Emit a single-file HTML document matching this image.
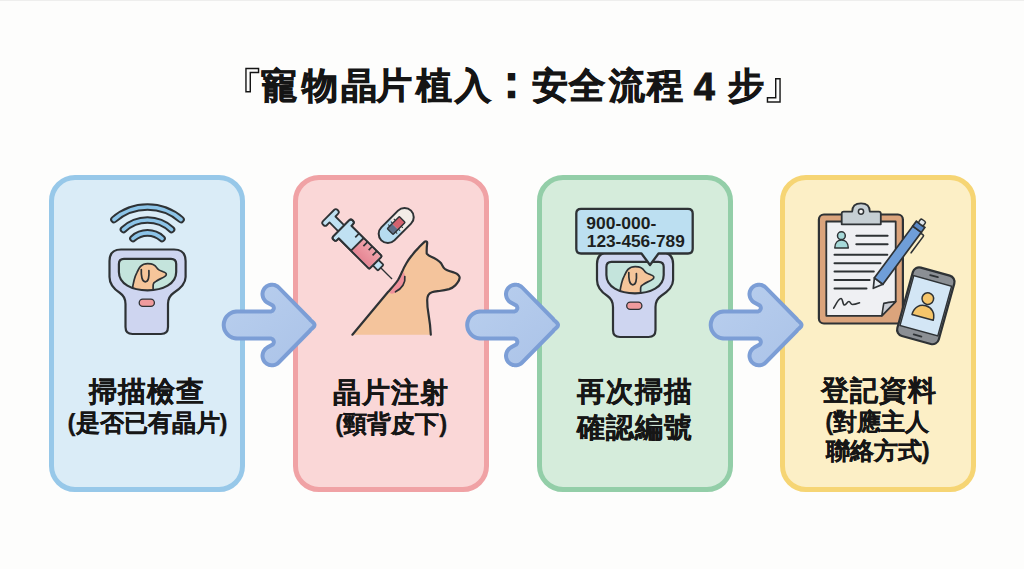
<!DOCTYPE html>
<html lang="zh-Hant-TW">
<head>
<meta charset="utf-8">
<style>
*{margin:0;padding:0;box-sizing:border-box}
html,body{width:1024px;height:569px;overflow:hidden;background:#fdfdfc}
body{position:relative;font-family:"Liberation Sans",sans-serif;color:#1a1a1a}
.topline{position:absolute;left:0;top:0;width:1024px;height:1px;background:#eeeeed}
.title{position:absolute;left:0;top:68px;width:1024px;height:40px}
.tc{position:absolute;top:0;font-size:36px;font-weight:bold;line-height:1;white-space:nowrap;color:#151515;-webkit-text-stroke:0.85px #151515}
.card{position:absolute;top:175px;width:196px;height:317px;border:5px solid;border-radius:26px}
.c1{left:49.2px;border-color:#97c8e9;background:#daecf7}
.c2{left:293px;border-color:#f0a2a5;background:#fad7d7}
.c3{left:536.5px;border-color:#93cea8;background:#d5ecdb}
.c4{left:780px;border-color:#f6d574;background:#fcefc6}
.t{position:absolute;width:200px;text-align:center;font-weight:bold;white-space:nowrap;color:#161616;line-height:1;-webkit-text-stroke:0.25px #161616}
.t1{font-size:28px;letter-spacing:1px;padding-left:1px}
.t2{font-size:24px}
svg.full{position:absolute;left:0;top:0}
.tp{position:absolute;font-weight:normal;line-height:1;white-space:nowrap;color:#151515}
</style>
</head>
<body>
<div class="topline"></div>
<div class="title"><span class="tp" style="left:214.2px;top:-1.9px;font-size:51px">『</span><span class="tc" style="left:261.4px">寵</span><span class="tc" style="left:301.7px">物</span><span class="tc" style="left:340.8px">晶</span><span class="tc" style="left:375.8px">片</span><span class="tc" style="left:415.6px">植</span><span class="tc" style="left:454.8px">入</span><span class="tc" style="left:489.3px;top:-9.5px;font-size:45px">：</span><span class="tc" style="left:531.9px">安</span><span class="tc" style="left:569.4px">全</span><span class="tc" style="left:609.2px">流</span><span class="tc" style="left:646.5px">程</span><span class="tc" style="left:693.7px;font-size:38px">4</span><span class="tc" style="left:727.5px">步</span><span class="tp" style="left:761.2px;top:-13.1px;font-size:51px">』</span></div>

<div class="card c1"></div>
<div class="card c2"></div>
<div class="card c3"></div>
<div class="card c4"></div>

<div class="t t1" style="left:46.95px;top:378px">掃描檢查</div>
<div class="t t2" style="left:47.55px;top:411.3px">(是否已有晶片)</div>
<div class="t t1" style="left:290.60px;top:378.5px">晶片注射</div>
<div class="t t2" style="left:291.25px;top:412px">(頸背皮下)</div>
<div class="t t1" style="left:534.60px;top:378.3px">再次掃描</div>
<div class="t t1" style="left:534.95px;top:414px">確認編號</div>
<div class="t t1" style="left:778.50px;top:377.3px">登記資料</div>
<div class="t t2" style="left:777.20px;top:409.8px">(對應主人</div>
<div class="t t2" style="left:777.65px;top:439.2px">聯絡方式)</div>

<svg class="full" width="1024" height="569" viewBox="0 0 1024 569">
  <defs>
    <g id="arrow">
      <path d="M265.8 303.9 L271.3 306.9 L271.6 307.2 L271.8 307.6 L271.8 308.0 L271.8 308.4 L271.6 308.7 L271.4 309.0 L271.1 309.3 L270.7 309.4 L270.3 309.5 L237.1 309.5 L235.9 309.6 L234.4 309.8 L232.9 310.1 L231.5 310.6 L229.7 311.5 L228.4 312.2 L227.5 312.9 L226.1 314.2 L225.1 315.3 L224.4 316.2 L223.6 317.5 L223.0 318.9 L222.3 320.7 L222.0 321.8 L221.8 323.2 L221.7 325.2 L221.8 326.3 L222.0 327.8 L222.4 329.7 L222.8 330.7 L223.4 332.1 L224.5 333.8 L225.4 335.0 L226.1 335.8 L227.2 336.8 L228.4 337.7 L230.1 338.8 L231.5 339.4 L232.5 339.8 L234.4 340.2 L235.9 340.4 L237.1 340.5 L270.3 340.5 L270.7 340.6 L271.1 340.7 L271.4 341.0 L271.6 341.3 L271.8 341.6 L271.8 342.0 L271.8 342.4 L271.6 342.8 L271.3 343.1 L266.7 345.6 L265.4 346.4 L264.0 347.5 L263.2 348.4 L262.6 349.2 L261.8 350.6 L261.1 352.3 L260.8 353.4 L260.6 354.4 L260.5 356.0 L260.6 357.1 L260.8 358.2 L261.1 359.3 L261.5 360.4 L262.0 361.4 L262.6 362.4 L263.2 363.2 L264.0 364.1 L264.9 364.8 L265.8 365.5 L266.8 366.0 L267.8 366.5 L268.9 366.9 L270.0 367.1 L271.1 367.3 L272.2 367.3 L273.3 367.2 L274.4 367.0 L275.5 366.7 L276.6 366.3 L277.6 365.8 L278.6 365.2 L280.0 364.0 L311.3 332.2 L312.1 331.0 L313.2 330.2 L315.2 328.2 L315.8 327.4 L316.2 326.6 L316.4 325.8 L316.5 324.9 L316.4 324.1 L316.1 323.2 L315.7 322.5 L315.2 321.8 L313.2 319.8 L312.1 319.0 L311.3 317.8 L280.2 286.2 L278.6 284.8 L277.6 284.2 L276.6 283.7 L275.1 283.1 L274.0 282.9 L272.9 282.7 L271.8 282.7 L270.7 282.8 L269.6 283.0 L268.5 283.3 L267.4 283.7 L266.4 284.2 L265.4 284.8 L264.6 285.4 L263.7 286.2 L263.0 287.1 L262.3 288.0 L261.8 289.0 L261.3 290.0 L260.9 291.1 L260.7 292.2 L260.5 293.3 L260.5 294.4 L260.6 295.5 L260.8 296.6 L261.1 297.7 L261.5 298.8 L262.0 299.8 L263.0 301.3 L263.7 302.2 L264.5 302.9Z" fill="#7c9ed6"/>
      <path d="M267.9 300.5 L273.3 303.4 L273.9 303.8 L274.7 304.7 L275.2 305.6 L275.7 306.9 L275.8 307.3 L275.8 308.8 L275.5 309.8 L274.8 311.1 L273.9 312.2 L273.6 312.4 L272.3 313.1 L271.3 313.4 L270.3 313.5 L237.2 313.5 L235.1 313.7 L234.0 314.0 L233.0 314.3 L231.6 315.0 L230.7 315.5 L230.1 316.0 L228.9 317.0 L227.7 318.5 L227.1 319.5 L226.7 320.4 L226.2 321.9 L225.8 323.7 L225.7 325.2 L225.8 326.0 L225.9 327.0 L226.3 328.5 L226.5 329.2 L227.0 330.2 L227.8 331.6 L229.0 333.0 L229.8 333.8 L230.6 334.4 L232.0 335.2 L233.7 335.9 L235.2 336.3 L237.2 336.5 L270.3 336.5 L271.3 336.6 L272.3 336.9 L273.6 337.6 L273.9 337.8 L274.6 338.6 L275.4 339.8 L275.8 341.2 L275.8 342.7 L275.7 343.1 L275.2 344.4 L274.7 345.3 L273.9 346.2 L273.2 346.6 L267.8 349.6 L266.8 350.5 L266.3 351.0 L265.3 352.4 L264.9 353.6 L264.6 354.9 L264.5 356.0 L264.7 357.4 L264.9 358.1 L265.5 359.4 L266.3 360.7 L267.4 361.7 L268.6 362.5 L270.0 363.0 L271.4 363.3 L272.9 363.2 L274.3 362.9 L275.0 362.7 L276.2 362.0 L277.3 361.1 L308.3 329.5 L309.0 328.6 L309.6 327.9 L310.5 327.2 L312.2 325.5 L312.4 325.2 L312.5 325.0 L312.4 324.8 L312.2 324.5 L310.6 322.8 L309.6 322.1 L309.0 321.4 L308.3 320.5 L277.5 289.1 L276.2 288.0 L275.6 287.7 L274.0 287.0 L273.3 286.8 L271.9 286.7 L270.4 286.9 L269.0 287.3 L267.7 288.0 L266.6 289.0 L265.7 290.2 L265.0 291.5 L264.6 292.9 L264.5 294.3 L264.7 295.8 L265.1 297.2 L265.4 297.8 L266.2 298.9 L267.1 299.9Z" fill="url(#ag)"/>
    </g>
    <linearGradient id="ag" x1="0" y1="0" x2="1" y2="1">
      <stop offset="0" stop-color="#b9cfee"/>
      <stop offset="1" stop-color="#abc3e8"/>
    </linearGradient>
    <linearGradient id="liq" x1="0" y1="0" x2="0" y2="1"><stop offset="0" stop-color="#f0a3ab"/><stop offset="1" stop-color="#e58593"/></linearGradient>
    <clipPath id="scr1"><path d="M124 258.9 H171 Q176.2 258.9 176.2 264 V272 C176.2 284 163 290.3 147.5 290.3 C132 290.3 118.9 284 118.9 272 V264 Q118.9 258.9 124 258.9 Z"/></clipPath>
    <g id="scanner">
      <path d="M121 249.5 H174 Q185.6 249.5 185.6 261 V277 C185.6 284.5 179 289.5 173.5 293 C169 296 168 299 168 304 V327 Q168 334 161 334 H132.5 Q125.5 334 125.5 327 V304 C125.5 299 124.5 296 120 293 C114.5 289.5 109.5 284.5 109.5 277 V261 Q109.5 249.5 121 249.5 Z" fill="#ced5f0" stroke="#2e3235" stroke-width="2.2" stroke-linejoin="round"/>
      <path d="M124 258.9 H171 Q176.2 258.9 176.2 264 V272 C176.2 284 163 290.3 147.5 290.3 C132 290.3 118.9 284 118.9 272 V264 Q118.9 258.9 124 258.9 Z" fill="#c4e4dc"/>
      <g clip-path="url(#scr1)">
        <path d="M132 292 C133 283 135 276 137 272.3 C138.5 269 139.5 267.5 140.5 266.4 C142.5 264.5 145 263.7 147.7 263.7 C150 263.7 152 264 153.1 264.6 C155 265.5 156 266.5 156.7 267.6 C157.3 268.5 157.8 269.2 158.5 269.6 C160 270.6 161.8 271.1 163.2 271.7 C165 272.3 166.3 273 166.3 274 C166.3 275 166 275.6 165.6 275.9 C164 277.3 162.5 278 160.8 278.6 C159 279.4 157.5 280.3 156.1 281.3 C155 282 154.2 282.5 153.7 283.1 C153.1 284 153.1 285 153.1 286.1 L153.1 292 Z" fill="#f5c59a" stroke="#2e3235" stroke-width="1.7" stroke-linejoin="round"/>
        <path d="M141.3 269.5 C141 276 142 281.8 145.3 281.8 C148.5 281.8 149.3 277 148.9 270.5" fill="none" stroke="#2e3235" stroke-width="1.7" stroke-linecap="round"/>
      </g>
      <path d="M124 258.9 H171 Q176.2 258.9 176.2 264 V272 C176.2 284 163 290.3 147.5 290.3 C132 290.3 118.9 284 118.9 272 V264 Q118.9 258.9 124 258.9 Z" fill="none" stroke="#2e3235" stroke-width="2.2"/>
      <rect x="139.2" y="299.1" width="15.2" height="7.2" rx="3.6" fill="#ef9b9d" stroke="#2e3235" stroke-width="1.3"/>
    </g>
  </defs>

  <!-- card1 icon -->
  <g fill="none" stroke-linecap="round">
    <path d="M114.0 219.5 A51.1 51.1 0 0 1 181.0 219.5" stroke="#2e3235" stroke-width="7.6"/>
    <path d="M114.0 219.5 A51.1 51.1 0 0 1 181.0 219.5" stroke="#8cc4e8" stroke-width="3.7"/>
    <path d="M123.5 229.5 A35 35 0 0 1 171.5 229.5" stroke="#2e3235" stroke-width="7.6"/>
    <path d="M123.5 229.5 A35 35 0 0 1 171.5 229.5" stroke="#8cc4e8" stroke-width="3.7"/>
    <path d="M133.0 238.5 A21.5 21.5 0 0 1 162.0 238.5" stroke="#2e3235" stroke-width="7.6"/>
    <path d="M133.0 238.5 A21.5 21.5 0 0 1 162.0 238.5" stroke="#8cc4e8" stroke-width="3.7"/>
  </g>
  <use href="#scanner"/>

  <!-- card3 icon -->
  <use href="#scanner" x="487.5" y="3"/>
  <path d="M581 208.8 H688 Q692.7 208.8 692.7 213.5 V248.8 Q692.7 253.5 688 253.5 H658.5 L650 265 L641.5 253.5 H581 Q576.3 253.5 576.3 248.8 V213.5 Q576.3 208.8 581 208.8 Z" fill="#bcdff1" stroke="#2e3235" stroke-width="2.3" stroke-linejoin="round"/>
  <g font-family="Liberation Sans" font-weight="bold" font-size="17" fill="#1d1f21">
  <text x="586.3" y="228.5" textLength="70" lengthAdjust="spacingAndGlyphs">900-000-</text>
  <text x="586.8" y="246.6" textLength="98" lengthAdjust="spacingAndGlyphs">123-456-789</text>
  </g>

  <!-- card2 icon: dog -->
  <path d="M352.4 334.7 L388 292 C392 287.5 395.5 284 398 280 C400 276.5 401 274 402.2 271.6 C403.5 268.5 405 265.5 406.4 263.2 C408 260.5 409.8 258 411.6 255.8 C413.5 253.3 415.5 250.8 418 248.4 C420 246.3 422 244 424.5 241.8 C426 241 427.3 241.6 427.2 243 C426.8 246 426.6 250 426.7 253.5 C428 255 429 255.8 430.7 256.5 C433 257.5 435 258.5 436.8 259.6 C438.8 261 440 262 441.1 263.3 C442 265 442.8 266.5 443.6 267.6 C444.5 268.8 445.5 269.5 446.7 270.1 C449 271.2 451.5 271.8 454 272.5 C456 273.2 457.5 274 458.3 275 C459.3 276 459.8 277 459.6 278 C459.4 279.6 458.8 281 457.7 282.4 C457 283.5 456.3 284.5 455.3 285.4 C453.5 287.2 451.5 288.3 449.1 289.1 C446 290 442.5 290.6 439.3 291 C436.5 291.4 434 291.7 431.9 292.2 C430 292.8 429 293.8 428.2 295.3 C427.4 297 427.2 298.5 427.2 300.2 C427.2 304 427.5 309 428.5 314 C429.5 320 430.5 327 430.8 334.7 Z" fill="#f4c49c"/>
  <path d="M403.8 271.5 C401.5 276.5 398.5 281 395.5 284.8 C393.5 287.5 391.5 290.5 389.5 293 L392 293.8 C397 292.5 401.5 289 404 284 C405.5 281 405.5 278 404.8 275.5 Z" fill="#ef909b"/>
  <path d="M404.8 276.5 C405.8 282.5 402 288.6 395.5 291.8" fill="none" stroke="#2e3235" stroke-width="1.7" stroke-linecap="round"/>
  <path d="M352.4 334.7 L388 292 C392 287.5 395.5 284 398 280 C400 276.5 401 274 402.2 271.6 C403.5 268.5 405 265.5 406.4 263.2 C408 260.5 409.8 258 411.6 255.8 C413.5 253.3 415.5 250.8 418 248.4 C420 246.3 422 244 424.5 241.8 C426 241 427.3 241.6 427.2 243 C426.8 246 426.6 250 426.7 253.5 C428 255 429 255.8 430.7 256.5 C433 257.5 435 258.5 436.8 259.6 C438.8 261 440 262 441.1 263.3 C442 265 442.8 266.5 443.6 267.6 C444.5 268.8 445.5 269.5 446.7 270.1 C449 271.2 451.5 271.8 454 272.5 C456 273.2 457.5 274 458.3 275 C459.3 276 459.8 277 459.6 278 C459.4 279.6 458.8 281 457.7 282.4 C457 283.5 456.3 284.5 455.3 285.4 C453.5 287.2 451.5 288.3 449.1 289.1 C446 290 442.5 290.6 439.3 291 C436.5 291.4 434 291.7 431.9 292.2 C430 292.8 429 293.8 428.2 295.3 C427.4 297 427.2 298.5 427.2 300.2 C427.2 304 427.5 309 428.5 314 C429.5 320 430.5 327 430.8 334.7" fill="none" stroke="#2e3235" stroke-width="2.2" stroke-linecap="round" stroke-linejoin="round"/>

  <!-- syringe -->
  <g transform="translate(330.5 217.5) rotate(45)" stroke="#2e3235" stroke-width="1.8" stroke-linejoin="round">
    <path d="M-2.8 -7.8 Q-2.8 -10.3 -0.3 -10.3 H0.3 Q2.8 -10.3 2.8 -7.8 V-4.2 H16 V4.2 H2.8 V7.8 Q2.8 10.3 0.3 10.3 H-0.3 Q-2.8 10.3 -2.8 7.8 Z" fill="#c0e1f2"/>
    <rect x="63.5" y="-4" width="7.5" height="8" rx="1" fill="#c0e1f2"/>
    <line x1="71" y1="0" x2="87" y2="0" stroke-width="1.3"/>
    <path d="M15.2 -11 Q15.2 -13.6 17.7 -13.6 H18.2 Q20.7 -13.6 20.7 -11 V-9 H62.3 Q63.8 -9 63.8 -7.5 V7.5 Q63.8 9 62.3 9 H20.7 V11 Q20.7 13.6 18.2 13.6 H17.7 Q15.2 13.6 15.2 11 Z" fill="#c0e1f2"/>
    <path d="M38 -8.1 H62.9 V8.1 H38 Z" fill="url(#liq)" stroke="none"/>
    <line x1="38" y1="-9" x2="38" y2="9"/>
    <path d="M15.2 -11 Q15.2 -13.6 17.7 -13.6 H18.2 Q20.7 -13.6 20.7 -11 V-9 H62.3 Q63.8 -9 63.8 -7.5 V7.5 Q63.8 9 62.3 9 H20.7 V11 Q20.7 13.6 18.2 13.6 H17.7 Q15.2 13.6 15.2 11 Z" fill="none"/>
    <path d="M31.5 -9 V-3.5 M43.5 -9 V-3 M50 -9 V-4 M56.5 -9 V-3" fill="none" stroke-width="1.7"/>
  </g>
  <!-- capsule -->
  <g transform="translate(396.2 225.5) rotate(-45)">
    <path d="M0 -9.2 H-11.8 A9.2 9.2 0 0 0 -11.8 9.2 H0 Z" fill="#b6dcf0"/>
    <path d="M0 -9.2 H11.8 A9.2 9.2 0 0 1 11.8 9.2 H0 Z" fill="#f2ede7"/>
    <rect x="-21" y="-9.2" width="42" height="18.4" rx="9.2" fill="none" stroke="#2e3235" stroke-width="2"/>
    <rect x="-8.6" y="-4.2" width="7" height="8.4" fill="#5f6f88"/>
    <rect x="-1.6" y="-4.2" width="10.2" height="8.4" fill="#d4636f"/>
    <rect x="-8.6" y="-4.2" width="17.2" height="8.4" rx="1" fill="none" stroke="#2e3235" stroke-width="1.4"/>
    <path d="M-5 -4.2 V-6.4 M-1 -4.2 V-6.4 M3 -4.2 V-6.4 M-5 4.2 V6.4 M-1 4.2 V6.4 M3 4.2 V6.4" stroke="#2e3235" stroke-width="1"/>
  </g>

  <!-- card4 icon: clipboard -->
  <rect x="818.9" y="214.5" width="84" height="109" rx="5" fill="#dba47c" stroke="#2e3235" stroke-width="2.2"/>
  <path d="M826.3 221.5 H895.7 V301.5 L881.8 315.8 H826.3 Z" fill="#eff0f3" stroke="#2e3235" stroke-width="1.8" stroke-linejoin="round"/>
  <path d="M895.7 301.5 C891 302.2 886.5 302.6 883.8 303.3 C883.1 307 882.5 311 881.8 315.8 Z" fill="#c9ccd3" stroke="#2e3235" stroke-width="1.6" stroke-linejoin="round"/>
  <path d="M841.7 224.3 V213.6 Q841.7 211.6 843.7 211.6 H852.2 C852.2 206 855.8 203.3 861 203.3 C866.2 203.3 869.8 206 869.8 211.6 H878.8 Q880.8 211.6 880.8 213.6 V224.3 Z" fill="#c6cfd4" stroke="#2e3235" stroke-width="1.8" stroke-linejoin="round"/>
  <circle cx="861" cy="211.6" r="2.6" fill="#f4f4f4" stroke="#2e3235" stroke-width="1.5"/>
  <circle cx="841.4" cy="235.7" r="3.9" fill="#a6d9d9" stroke="#2e3235" stroke-width="1.5"/>
  <path d="M834.8 248 C834.8 242.6 838 240 841.5 240 C845 240 848.3 242.6 848.3 248 Z" fill="#a6d9d9" stroke="#2e3235" stroke-width="1.5" stroke-linejoin="round"/>
  <g stroke="#2e3235" stroke-width="2" stroke-linecap="round">
    <line x1="856.3" y1="235.7" x2="887.6" y2="235.7"/>
    <line x1="856.3" y1="244.2" x2="887.6" y2="244.2"/>
    <line x1="834.5" y1="254.7" x2="887.3" y2="254.7"/>
    <line x1="834.5" y1="263.2" x2="880.5" y2="263.2"/>
    <line x1="834.5" y1="271.6" x2="873.8" y2="271.6"/>
    <line x1="834.5" y1="280.1" x2="869.6" y2="280.1"/>
    <line x1="834.5" y1="288.5" x2="866.5" y2="288.5"/>
  </g>
  <path d="M833.7 308.2 C836 304 838.5 298.5 841 298.5 C843 298.5 842.5 305 844.5 305 C846.5 305 847 301.5 849 301.5 C850.5 301.5 850.5 304.5 852.5 304.5 C855 304.5 857.5 303.5 859.5 302.8" fill="none" stroke="#2e3235" stroke-width="1.6" stroke-linecap="round" stroke-linejoin="round"/>
  <!-- pen -->
  <g transform="translate(873.3 288.3) rotate(-53.5)">
    <path d="M0 0 L9 -5.3 V5.3 Z" fill="#e6ecf2" stroke="#2e3235" stroke-width="1.7" stroke-linejoin="round"/>
    <rect x="9" y="-5.3" width="64.5" height="10.6" fill="#6f9ed8" stroke="#2e3235" stroke-width="1.7"/>
    <rect x="73.5" y="-5.3" width="6" height="10.6" fill="#5a88c4" stroke="#2e3235" stroke-width="1.7"/>
    <rect x="79.5" y="-3" width="5" height="6" rx="1.5" fill="#dfe5ea" stroke="#2e3235" stroke-width="1.5"/>
    <path d="M72.5 5.3 V8.3 Q72.5 9.3 71.5 9.3 H51" fill="none" stroke="#2e3235" stroke-width="1.6" stroke-linecap="round"/>
  </g>
  <!-- phone -->
  <g transform="translate(925.8 305.8) rotate(15.5)">
    <rect x="-21.5" y="-35.5" width="43" height="71" rx="6.5" fill="#8b8f94" stroke="#2e3235" stroke-width="2.2"/>
    <rect x="-19.6" y="-25.8" width="39.2" height="51.6" fill="#d3e6f5" stroke="#2e3235" stroke-width="1.4"/>
    <line x1="-4" y1="-30.8" x2="4" y2="-30.8" stroke="#2e3235" stroke-width="1.8" stroke-linecap="round"/>
    <line x1="-4" y1="30.8" x2="4" y2="30.8" stroke="#2e3235" stroke-width="1.8" stroke-linecap="round"/>
    <circle cx="0" cy="-7.5" r="5.8" fill="#f5c56a" stroke="#2e3235" stroke-width="1.5"/>
    <path d="M-11 12 C-11 4 -6 0 0 0 C6 0 11 4 11 12 Z" fill="#f5c56a" stroke="#2e3235" stroke-width="1.5" stroke-linejoin="round"/>
  </g>

  <use href="#arrow"/>
  <use href="#arrow" x="243.5"/>
  <use href="#arrow" x="487"/>
</svg>
</body>
</html>
